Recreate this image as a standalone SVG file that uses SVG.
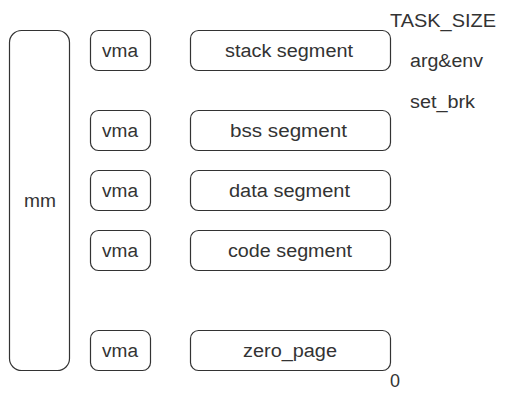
<svg xmlns="http://www.w3.org/2000/svg" width="507" height="403" viewBox="0 0 507 403">
<style>
.b{fill:#fff;stroke:#333;stroke-width:1.2}
text{font-family:"Liberation Sans",Arial,sans-serif;font-size:18px;fill:#333}
.c{text-anchor:middle;dominant-baseline:central}
</style>
<rect width="507" height="403" fill="#fff"/>
<g id="mm"><rect class="b" x="9.5" y="30.5" width="60" height="340" rx="12"/><text class="c" x="40" y="201" textLength="32" lengthAdjust="spacingAndGlyphs">mm</text></g>
<g id="vma1"><rect class="b" x="90.5" y="30.5" width="60" height="40" rx="8"/><text class="c" x="120" y="50.5" textLength="36" lengthAdjust="spacingAndGlyphs">vma</text></g>
<g id="vma2"><rect class="b" x="90.5" y="110.5" width="60" height="40" rx="8"/><text class="c" x="120" y="130.5" textLength="36" lengthAdjust="spacingAndGlyphs">vma</text></g>
<g id="vma3"><rect class="b" x="90.5" y="170.5" width="60" height="40" rx="8"/><text class="c" x="120" y="190.5" textLength="36" lengthAdjust="spacingAndGlyphs">vma</text></g>
<g id="vma4"><rect class="b" x="90.5" y="230.5" width="60" height="40" rx="8"/><text class="c" x="120" y="250.5" textLength="36" lengthAdjust="spacingAndGlyphs">vma</text></g>
<g id="vma5"><rect class="b" x="90.5" y="330.5" width="60" height="40" rx="8"/><text class="c" x="120" y="350.5" textLength="36" lengthAdjust="spacingAndGlyphs">vma</text></g>
<g id="stack"><rect class="b" x="190.5" y="30.5" width="200" height="40" rx="8"/><text class="c" x="289" y="50.5" textLength="128" lengthAdjust="spacingAndGlyphs">stack segment</text></g>
<g id="bss"><rect class="b" x="190.5" y="110.5" width="200" height="40" rx="8"/><text class="c" x="288.5" y="130.5" textLength="117" lengthAdjust="spacingAndGlyphs">bss segment</text></g>
<g id="data"><rect class="b" x="190.5" y="170.5" width="200" height="40" rx="8"/><text class="c" x="289.5" y="190.5" textLength="121" lengthAdjust="spacingAndGlyphs">data segment</text></g>
<g id="code"><rect class="b" x="190.5" y="230.5" width="200" height="40" rx="8"/><text class="c" x="290" y="250.5" textLength="124" lengthAdjust="spacingAndGlyphs">code segment</text></g>
<g id="zero"><rect class="b" x="190.5" y="330.5" width="200" height="40" rx="8"/><text class="c" x="290" y="350.5" textLength="94" lengthAdjust="spacingAndGlyphs">zero_page</text></g>
<g id="labels">
<text x="390" y="27" textLength="106" lengthAdjust="spacingAndGlyphs">TASK_SIZE</text>
<text x="410" y="67" textLength="73" lengthAdjust="spacingAndGlyphs">arg&amp;env</text>
<text x="410" y="108" textLength="65" lengthAdjust="spacingAndGlyphs">set_brk</text>
<text x="390" y="387" textLength="10" lengthAdjust="spacingAndGlyphs">0</text>
</g>
<g id="connectors"/>
</svg>
